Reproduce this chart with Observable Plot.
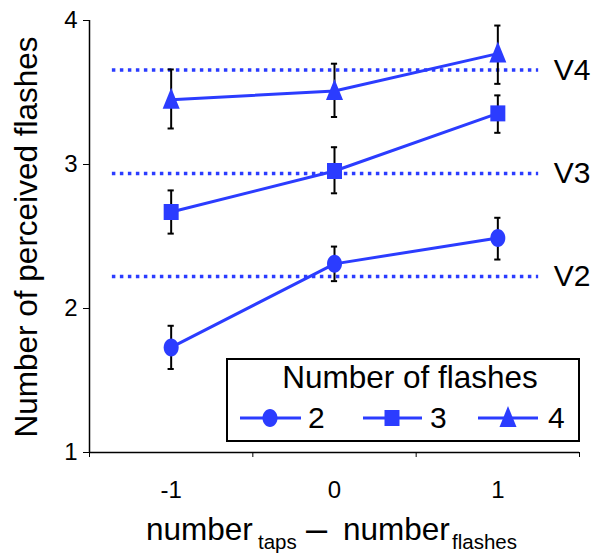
<!DOCTYPE html>
<html>
<head>
<meta charset="utf-8">
<script src="https://cdn.jsdelivr.net/npm/d3@7"></script>
<script src="https://cdn.jsdelivr.net/npm/@observablehq/plot@0.6"></script>
<style>
  html, body { margin: 0; padding: 0; background: #fff; }
  #chart svg { display: block; font-family: "Liberation Sans", Arial, sans-serif; }
</style>
</head>
<body>
<div id="chart"></div>
<script>
// ---- data ----
const xValues = [-1, 0, 1];
const seriesNames = ["2", "3", "4"];
const means2 = [1.73, 2.31, 2.49];
const lo2 = [1.58, 2.19, 2.34];
const hi2 = [1.88, 2.43, 2.63];
const means3 = [2.67, 2.955, 3.355];
const lo3 = [2.52, 2.80, 3.22];
const hi3 = [2.82, 3.12, 3.48];
const means4 = [3.45, 3.51, 3.77];
const lo4 = [3.25, 3.33, 3.56];
const hi4 = [3.66, 3.70, 3.965];
const refLabels = ["V2", "V3", "V4"];
const refValues = [2.222, 2.937, 3.657];
const yTicks = [1, 2, 3, 4];
const xTickLabels = [-1, 0, 1];
const xTickMarks = [-1.5, -0.5, 0.5, 1.5];

const blue = "#2b3cff";

const table = [];
[[means2, lo2, hi2], [means3, lo3, hi3], [means4, lo4, hi4]].forEach(([m, l, h], s) => {
  xValues.forEach((x, i) => table.push({series: seriesNames[s], x, y: m[i], lo: l[i], hi: h[i]}));
});
const refs = refLabels.map((label, i) => ({label, value: refValues[i]}));

// custom marker shapes (slightly taller than wide, as in the reference)
const K = 0.5523;
const ellipseSym = {draw(ctx) {
  const rx = 7.5, ry = 9;
  ctx.moveTo(rx, 0);
  ctx.bezierCurveTo(rx, ry * K, rx * K, ry, 0, ry);
  ctx.bezierCurveTo(-rx * K, ry, -rx, ry * K, -rx, 0);
  ctx.bezierCurveTo(-rx, -ry * K, -rx * K, -ry, 0, -ry);
  ctx.bezierCurveTo(rx * K, -ry, rx, -ry * K, rx, 0);
  ctx.closePath();
}};
const squareSym = {draw(ctx) {
  ctx.moveTo(-7.5, -8); ctx.lineTo(7.5, -8); ctx.lineTo(7.5, 8); ctx.lineTo(-7.5, 8); ctx.closePath();
}};
const triangleSym = {draw(ctx) {
  ctx.moveTo(0, -12); ctx.lineTo(8.5, 9); ctx.lineTo(-8.5, 9); ctx.closePath();
}};
const symbols = {"2": ellipseSym, "3": squareSym, "4": triangleSym};

const W = 595, H = 555;
const capHalf = 0.019;

const chart = Plot.plot({
  width: W,
  height: H,
  marginLeft: 89,
  marginRight: 16,
  marginTop: 20,
  marginBottom: 103,
  style: {fontFamily: "'Liberation Sans', Arial, sans-serif", background: "white", overflow: "visible"},
  x: {domain: [-1.5, 1.5]},
  y: {domain: [1, 4]},
  marks: [
    Plot.axisY({ticks: yTicks, tickFormat: d => String(d), tickSize: 6, tickPadding: 6, fontSize: 24, label: null, stroke: "black", color: "black"}),
    Plot.axisX({ticks: xTickMarks, tickFormat: () => "", tickSize: 5, label: null, stroke: "black"}),
    Plot.axisX({ticks: xTickLabels, tickSize: 0, tickPadding: 28, fontSize: 24, label: null, tickFormat: d => String(d), color: "black"}),
    Plot.ruleX([-1.5], {stroke: "black", strokeWidth: 1.5}),
    Plot.ruleY([1], {stroke: "black", strokeWidth: 1.5}),
    Plot.ruleY(refs, {y: "value", x1: -1.36, x2: 1.25, stroke: blue, strokeWidth: 3.5, strokeDasharray: "3.5,4.5"}),
    Plot.text(refs, {x: 1.25, y: "value", text: "label", textAnchor: "start", dx: 15, fontSize: 30, fill: "black"}),
    Plot.line(table, {x: "x", y: "y", z: "series", stroke: blue, strokeWidth: 3}),
    Plot.ruleX(table, {x: "x", y1: "lo", y2: "hi", stroke: "black", strokeWidth: 2}),
    Plot.ruleY(table, {y: "lo", x1: d => d.x - capHalf, x2: d => d.x + capHalf, stroke: "black", strokeWidth: 2}),
    Plot.ruleY(table, {y: "hi", x1: d => d.x - capHalf, x2: d => d.x + capHalf, stroke: "black", strokeWidth: 2}),
    ...seriesNames.map(s => Plot.dot(table.filter(d => d.series === s), {x: "x", y: "y", symbol: symbols[s], fill: blue, stroke: "none", r: 7}))
  ]
});

document.getElementById("chart").appendChild(chart);
const svg = d3.select(chart);

// y title
svg.append("text")
  .attr("transform", "translate(37,237) rotate(-90)")
  .attr("text-anchor", "middle")
  .attr("font-size", 31.5)
  .attr("fill", "black")
  .text("Number of perceived flashes");

// x title with subscripts
const xtParts = [
  {t: "number", x: 146, y: 540, size: 31.5},
  {t: "taps", x: 258, y: 549, size: 20.5},
  {t: "\u2013", x: 306, y: 542, size: 38},
  {t: "number", x: 343, y: 540, size: 31.5},
  {t: "flashes", x: 452, y: 549, size: 20.5}
];
const xt = svg.append("g").attr("fill", "black").attr("text-anchor", "start");
xtParts.forEach(p => xt.append("text").attr("x", p.x).attr("y", p.y).attr("font-size", p.size).attr("text-anchor", "start").text(p.t));

// legend
const lg = svg.append("g");
lg.append("rect").attr("x", 227).attr("y", 359).attr("width", 352).attr("height", 82)
  .attr("fill", "white").attr("stroke", "black").attr("stroke-width", 2);
lg.append("text").attr("x", 410).attr("y", 388).attr("text-anchor", "middle")
  .attr("font-size", 31.5).attr("fill", "black").text("Number of flashes");
const entries = [
  {name: seriesNames[0], x1: 240, x2: 301, mx: 270, tx: 308},
  {name: seriesNames[1], x1: 363, x2: 422, mx: 392, tx: 430},
  {name: seriesNames[2], x1: 478, x2: 538, mx: 508, tx: 548}
];
entries.forEach(e => {
  lg.append("line").attr("x1", e.x1).attr("x2", e.x2).attr("y1", 418).attr("y2", 418)
    .attr("stroke", blue).attr("stroke-width", 3);
  lg.append("path").attr("transform", `translate(${e.mx},418)`)
    .attr("d", d3.symbol(symbols[e.name])()).attr("fill", blue);
  lg.append("text").attr("x", e.tx).attr("y", 428).attr("font-size", 30).attr("text-anchor", "start")
    .attr("fill", "black").text(e.name);
});
</script>
</body>
</html>
